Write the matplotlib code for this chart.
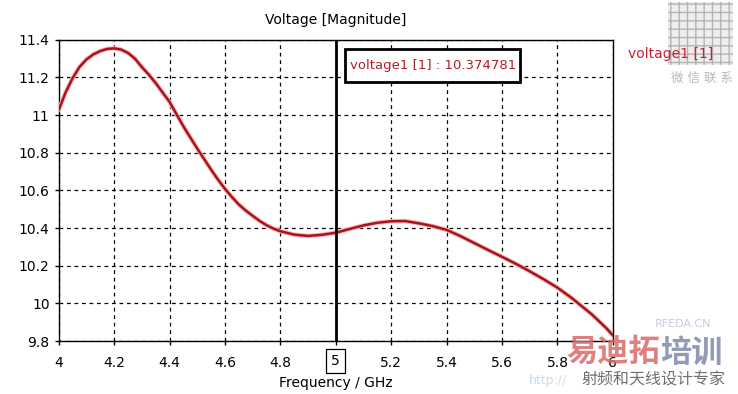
import matplotlib.pyplot as plt
from matplotlib.patches import Rectangle

# Voltage magnitude
freq = [4.000, 4.025, 4.050, 4.075, 4.100, 4.125, 4.150, 4.175, 4.200, 4.225, 4.250, 4.275,
        4.300, 4.325, 4.350, 4.400, 4.450, 4.500, 4.550, 4.575, 4.600, 4.625, 4.650, 4.675,
        4.700, 4.725, 4.750, 4.775, 4.800, 4.850, 4.900, 4.950, 5.000, 5.050, 5.100, 5.150,
        5.200, 5.250, 5.300, 5.350, 5.400, 5.450, 5.500, 5.550, 5.600, 5.650, 5.700, 5.750,
        5.800, 5.850, 5.900, 5.925, 5.950, 5.975, 6.000]
voltage = [11.026, 11.120, 11.195, 11.255, 11.295, 11.322, 11.340, 11.351, 11.354, 11.348, 11.330, 11.300,
           11.255, 11.215, 11.170, 11.070, 10.940, 10.822, 10.710, 10.657, 10.608, 10.565, 10.525, 10.493,
           10.465, 10.438, 10.415, 10.397, 10.383, 10.365, 10.358, 10.364, 10.375, 10.395, 10.414, 10.428,
           10.436, 10.437, 10.425, 10.410, 10.390, 10.357, 10.320, 10.283, 10.247, 10.210, 10.170, 10.128,
           10.083, 10.030, 9.970, 9.940, 9.905, 9.870, 9.830]

x_ticks = [4, 4.2, 4.4, 4.6, 4.8, 5, 5.2, 5.4, 5.6, 5.8, 6]
y_ticks = [9.8, 10, 10.2, 10.4, 10.6, 10.8, 11, 11.2, 11.4]
marker_x = 5
marker_value = "10.374781"

plt.rcParams['font.family'] = ['DejaVu Sans', 'Noto Sans CJK SC']

fig = plt.figure(figsize=(7.38, 3.94), dpi=100)
ax = fig.add_axes([0.0795, 0.1345, 0.751, 0.7647])

ax.plot(freq, voltage, color="#ffb4b4", lw=3.2, solid_capstyle="round", zorder=3)
ax.plot(freq, voltage, color="#a8141c", lw=1.8, zorder=4)
ax.axvline(marker_x, color="black", lw=2, zorder=5)

ax.set_xlim(4, 6)
ax.set_ylim(9.8, 11.4)
ax.set_xticks(x_ticks)
ax.set_yticks(y_ticks)
ax.set_xticklabels(["" if t == marker_x else f"{t:g}" for t in x_ticks])
ax.set_yticklabels([f"{t:g}" for t in y_ticks])
ax.tick_params(direction="out", length=3, width=1, labelsize=10, colors="black")
ax.tick_params(axis="x", pad=8)
ax.tick_params(axis="y", pad=3.5)
ax.grid(True, color="black", ls=(0, (3, 3)), lw=0.9)
for s in ax.spines.values():
    s.set_linewidth(1)

ax.text(marker_x, -0.066, "5", transform=ax.get_xaxis_transform(), ha="center", va="center",
        fontsize=10, bbox=dict(boxstyle="square,pad=0.38", fc="white", ec="black", lw=0.9))

ax.set_title("Voltage [Magnitude]", fontsize=10, pad=11)
ax.set_xlabel("Frequency / GHz", fontsize=10, labelpad=4)

# marker readout box
ax.add_patch(Rectangle((0.5165, 0.8596), 0.3157, 0.1094, transform=ax.transAxes,
                       fc="white", ec="black", lw=2, zorder=6))
ax.text(0.526, 0.9146, "voltage1 [1] : " + marker_value, transform=ax.transAxes, ha="left",
        va="center", fontsize=9.5, color="#b0202a", zorder=7)

fig.text(0.851, 0.862, "voltage1 [1]", fontsize=10, color="#c82030", ha="left", va="center")

# watermark
fig.patches.append(Rectangle((0.905, 0.835), 0.088, 0.16, transform=fig.transFigure,
                             fc="#eeeeee", ec="#b4b4b4", hatch="++", lw=0, zorder=-1))
fig.text(0.951, 0.80, "微 信 联 系", fontsize=9, color="#b8b8b8", ha="center", va="center")
fig.text(0.926, 0.178, "RFEDA.CN", fontsize=8, color="#c8cce0", ha="center", va="center")
fig.text(0.895, 0.106, "易迪拓", fontsize=22.5, color="#d86a6a", alpha=0.85, ha="right", va="center",
         fontweight="bold")
fig.text(0.895, 0.106, "培训", fontsize=22.5, color="#7f8aa8", alpha=0.85, ha="left", va="center",
         fontweight="bold")
fig.text(0.886, 0.035, "射频和天线设计专家", fontsize=11.5, color="#707070", ha="center", va="center")
fig.text(0.742, 0.035, "http://", fontsize=9, color="#c8dcea", ha="center", va="center")

fig.savefig("out.png", dpi=100)
